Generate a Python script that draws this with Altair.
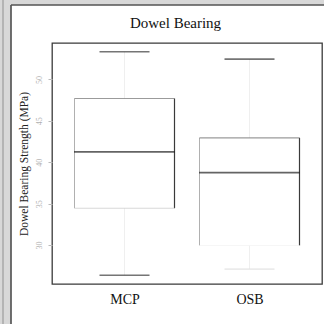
import altair as alt
import pandas as pd

categories = ["MCP", "OSB"]
lower_whisker = [26.35, 27.1]
q1 = [34.45, 29.95]
median = [41.25, 38.75]
q3 = [47.7, 42.95]
upper_whisker = [53.35, 52.45]
y_ticks = [30, 35, 40, 45, 50]
chart_title = ["Dowel Bearing"]

df = pd.DataFrame({
    "cat": categories,
    "lo": lower_whisker,
    "q1": q1,
    "med": median,
    "q3": q3,
    "hi": upper_whisker,
})

SERIF = "Liberation Serif"

xscale = alt.Scale(type="point", padding=0.58, domain=categories)
yscale = alt.Scale(domain=[25.3, 54.4], nice=False, zero=False)

X = alt.X("cat:N", scale=xscale, sort=categories,
          axis=alt.Axis(title=None, ticks=False, domain=False, labelAngle=0,
                        labelFont=SERIF, labelFontSize=14, labelColor="#111",
                        labelPadding=8, zindex=1))
Y_axis = alt.Axis(values=y_ticks, labelAngle=270, labelColor="#b0b0b0",
                  labelFontSize=8, labelFont=SERIF, tickColor="#bbbbbb", tickSize=4,
                  labelPadding=5, domain=False, grid=False, zindex=1,
                  title="Dowel Bearing Strength (MPa)", titleFont=SERIF,
                  titleFontSize=11.5, titleFontWeight="normal", titleColor="#222",
                  titlePadding=6)

base = alt.Chart(df)

# decorative page surround (gray strips and dark panel border)
strip_left = base.mark_rect(fill="#d8d8d8").encode(
    x=alt.value(-52), x2=alt.value(-41), y=alt.value(-43), y2=alt.value(281))
strip_top = base.mark_rect(fill="#d8d8d8").encode(
    x=alt.value(-52), x2=alt.value(272), y=alt.value(-43), y2=alt.value(-38))
strip_line = base.mark_rule(color="#a8a8a8").encode(
    x=alt.value(-49), y=alt.value(-43), y2=alt.value(281))
border_left = base.mark_rule(color="#555555", strokeWidth=1.2).encode(
    x=alt.value(-41), y=alt.value(-38), y2=alt.value(281))
border_top = base.mark_rule(color="#555555", strokeWidth=1.2).encode(
    x=alt.value(-41), x2=alt.value(272), y=alt.value(-38))

title_text = alt.Chart(pd.DataFrame({"t": chart_title})).mark_text(
    font=SERIF, fontSize=15, color="#111", align="center", baseline="alphabetic"
).encode(text="t:N", x=alt.value(123.5), y=alt.value(-15))

whisk_up = base.mark_rule(color="#efefef").encode(
    x=X, y=alt.Y("q3:Q", scale=yscale, axis=Y_axis), y2="hi:Q")
whisk_lo = base.mark_rule(color="#efefef").encode(x=X, y=alt.Y("lo:Q"), y2="q1:Q")

left_edge = base.mark_rule(color="#b0b0b0").encode(
    x=X, xOffset=alt.value(-50), y="q1:Q", y2="q3:Q")
right_edge = base.mark_rule(color="#3a3a3a", strokeWidth=1.2).encode(
    x=X, xOffset=alt.value(50), y="q1:Q", y2="q3:Q")
top_edge = base.mark_tick(color="#707070", size=100, thickness=1.2).encode(x=X, y="q3:Q")
bot_edge = base.mark_tick(size=100, thickness=1).encode(
    x=X, y="q1:Q",
    color=alt.condition(alt.datum.cat == "OSB", alt.value("#f2f2f2"), alt.value("#c8c8c8")))
med = base.mark_tick(color="#222222", size=101, thickness=1.6).encode(x=X, y="med:Q")
cap_up = base.mark_tick(color="#3a3a3a", size=50, thickness=1.6).encode(x=X, y="hi:Q")
cap_lo = base.mark_tick(size=50, thickness=1.6).encode(
    x=X, y="lo:Q",
    color=alt.condition(alt.datum.cat == "OSB", alt.value("#e2e2e2"), alt.value("#3a3a3a")))

chart = alt.layer(
    strip_left, strip_top, strip_line, border_left, border_top, title_text,
    whisk_up, whisk_lo, left_edge, right_edge, top_edge, bot_edge,
    med, cap_up, cap_lo
).properties(
    width=270, height=241,
    autosize=alt.AutoSizeParams(type="none"),
    padding={"left": 52, "top": 43, "right": 2, "bottom": 40},
    background="white",
).configure_view(stroke="#3a3a3a", strokeWidth=1.3)

chart.save("out.html", embed_options={"renderer": "svg", "actions": False})
